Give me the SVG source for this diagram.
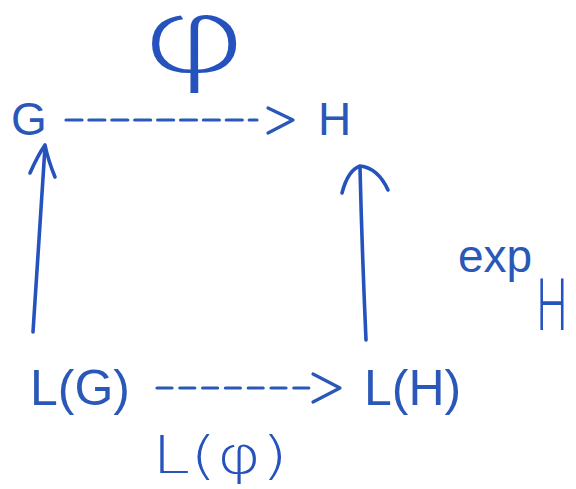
<svg xmlns="http://www.w3.org/2000/svg" width="576" height="489" viewBox="0 0 576 489">
<style>
.t{font-family:"Liberation Sans",Arial,sans-serif;fill:#2a58b8}
.h{font-family:"DejaVu Sans","Noto Sans",sans-serif;font-weight:200;fill:#2552bd}
.hs{font-family:"Noto Sans","Liberation Sans",sans-serif;font-weight:300;fill:#2552bd}
.ln{fill:none;stroke:#2a58b8;stroke-width:3.2;stroke-linecap:round;stroke-linejoin:round}
.hw{fill:none;stroke:#2552bd;stroke-width:3.6;stroke-linecap:round;stroke-linejoin:round}
</style>
<rect width="576" height="489" fill="#ffffff"/>
<g id="node-G"><text class="t" x="11" y="135" font-size="46">G</text></g>
<g id="node-H"><text class="t" x="318" y="135" font-size="46">H</text></g>
<g id="node-LG"><text class="t" x="30" y="405" font-size="50">L(G)</text></g>
<g id="node-LH"><text class="t" x="364" y="405" font-size="50">L(H)</text></g>
<g id="label-phi"><text class="h" transform="translate(194,72) scale(1.66,1)" x="0" y="0" font-size="102" text-anchor="middle">φ</text></g>
<g id="label-Lphi"><text class="h" x="152" y="473" font-size="52" textLength="136" lengthAdjust="spacingAndGlyphs">L(φ)</text></g>
<g id="label-exp"><text class="t" x="458" y="272" font-size="46">exp</text><text class="hs" x="536" y="330" font-size="72" textLength="32" lengthAdjust="spacingAndGlyphs">H</text></g>
<g id="connectors">
<path class="ln" d="M66,120 H257" stroke-dasharray="16 6.9" stroke-linecap="butt"/>
<path class="ln" d="M268,108 L293,120 L268,133"/>
<path class="ln" d="M157,388 H309" stroke-dasharray="15 7.8" stroke-linecap="butt"/>
<path class="ln" d="M313,374 L340,388 L313,402"/>
<path class="hw" d="M33,332 L45,147"/>
<path class="hw" d="M30,173 Q38,155 45,145 Q48,160 55,177"/>
<path class="hw" d="M366,340 Q362,250 360,168"/>
<path class="hw" d="M342,193 Q348,170 360,166 Q378,168 388,190"/>
</g>
</svg>
